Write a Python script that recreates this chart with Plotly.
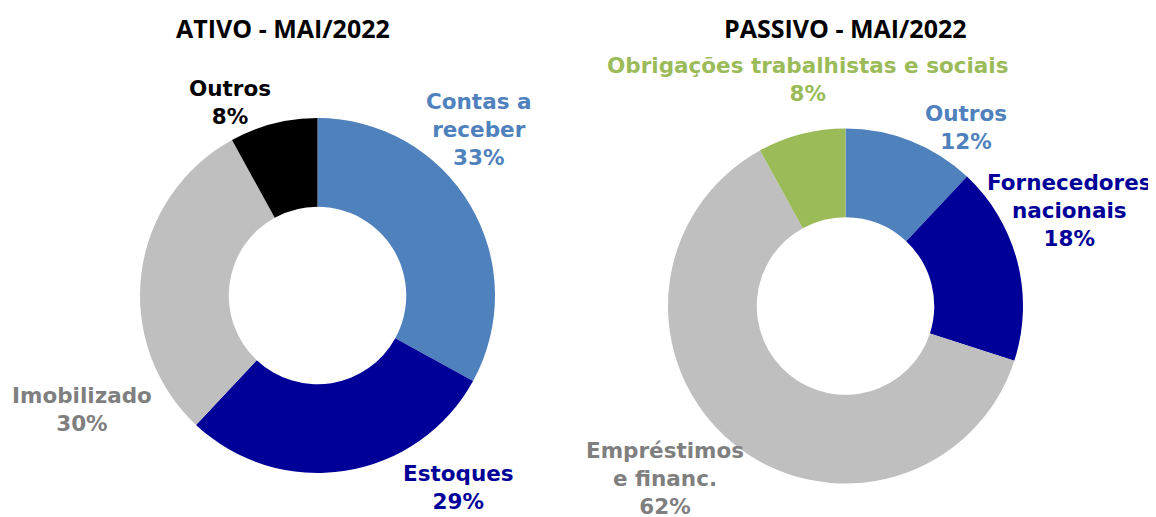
import plotly.graph_objects as go

W, H = 1156, 517
OFF = 8  # page body margin

ativo_labels = ["Contas a receber", "Estoques", "Imobilizado", "Outros"]
ativo_values = [33, 29, 30, 8]
ativo_colors = ["#4F81BD", "#000099", "#BFBFBF", "#000000"]
ativo_text_colors = ["#4F81BD", "#000099", "#7F7F7F", "#000000"]
ativo_text = ["Contas a<br>receber<br>33%", "Estoques<br>29%", "Imobilizado<br>30%", "Outros<br>8%"]

passivo_labels = ["Outros", "Fornecedores nacionais", "Empréstimos e financ.", "Obrigações trabalhistas e sociais"]
passivo_values = [12, 18, 62, 8]
passivo_colors = ["#4F81BD", "#000099", "#BFBFBF", "#9BBB59"]
passivo_text_colors = ["#4F81BD", "#000099", "#7F7F7F", "#9BBB59"]
passivo_text = ["Outros<br>12%", "Fornecedores<br>nacionais<br>18%", "Empréstimos<br>e financ.<br>62%",
                "Obrigações trabalhistas e sociais<br>8%"]

titles = ["ATIVO - MAI/2022", "PASSIVO - MAI/2022"]

# label centre positions in screen pixels (layout only)
ativo_pos = [(478, 129), (458, 487), (82, 409), (230, 102)]
passivo_pos = [(966, 127), (1069, 210), (665, 478), (808, 79)]
title_pos = [(283, 28), (845, 28)]


def px(x, y):
    return (x - OFF) / W, 1 - (y - OFF) / H


def domain(cx, cy, r):
    cx -= OFF
    cy -= OFF
    return dict(x=[(cx - r) / W, (cx + r) / W], y=[1 - (cy + r) / H, 1 - (cy - r) / H])


fig = go.Figure()
fig.add_trace(go.Pie(
    labels=ativo_labels, values=ativo_values, hole=0.5, sort=False, direction="clockwise",
    rotation=0, marker=dict(colors=ativo_colors, line=dict(width=0)), textinfo="none",
    domain=domain(317.5, 295.5, 177.5), showlegend=False, hoverinfo="label+percent",
))
fig.add_trace(go.Pie(
    labels=passivo_labels, values=passivo_values, hole=0.5, sort=False, direction="clockwise",
    rotation=0, marker=dict(colors=passivo_colors, line=dict(width=0)), textinfo="none",
    domain=domain(845.5, 306, 177.5), showlegend=False, hoverinfo="label+percent",
))

annotations = []
for t, (x, y) in zip(titles, title_pos):
    ax, ay = px(x, y)
    annotations.append(dict(text="<b>" + t + "</b>", x=ax, y=ay, xref="paper", yref="paper",
                            xanchor="center", yanchor="middle", showarrow=False,
                            font=dict(family="Open Sans", size=25, color="#000000")))
for texts, colors, poss in [(ativo_text, ativo_text_colors, ativo_pos),
                            (passivo_text, passivo_text_colors, passivo_pos)]:
    for t, c, (x, y) in zip(texts, colors, poss):
        ax, ay = px(x, y)
        annotations.append(dict(text="<b>" + t + "</b>", x=ax, y=ay, xref="paper", yref="paper",
                                xanchor="center", yanchor="middle", align="center", showarrow=False,
                                font=dict(family="DejaVu Sans", size=21.5, color=c)))

fig.update_layout(width=W, height=H, margin=dict(l=0, r=0, t=0, b=0),
                  paper_bgcolor="white", plot_bgcolor="white", annotations=annotations)
fig.write_html("out.html")
